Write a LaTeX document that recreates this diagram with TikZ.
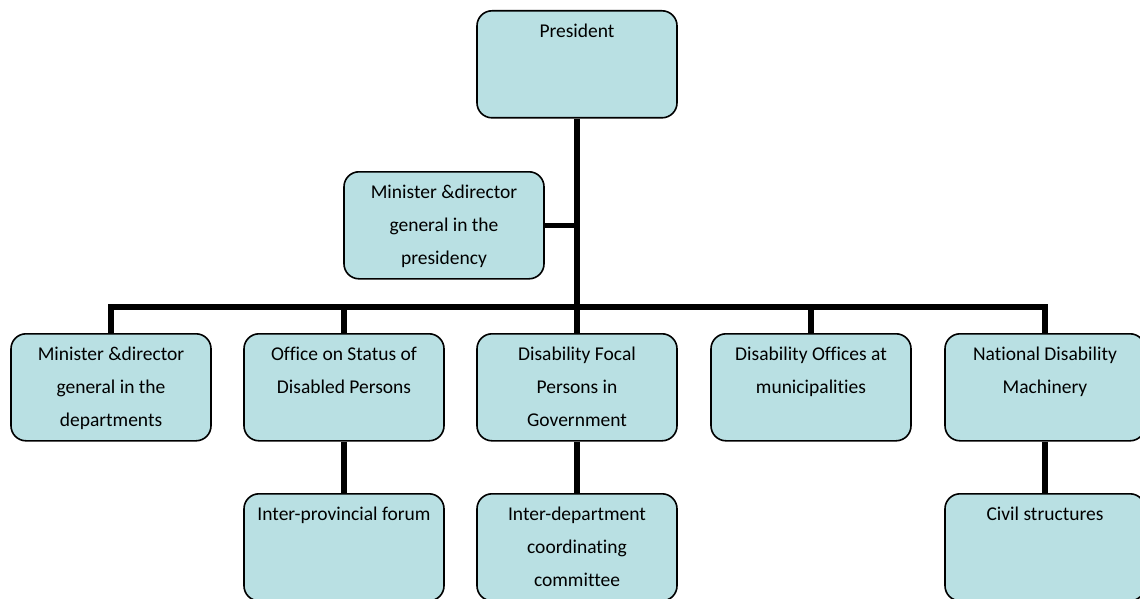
\documentclass[tikz,border=0pt]{standalone}
\usepackage{fontspec}
\setmainfont[Ligatures=NoCommon]{Carlito}
\usepackage{tikz}
\usetikzlibrary{shapes, arrows}
\definecolor{boxfill}{RGB}{185,224,227}
\tikzstyle{block} = [rectangle, draw, line width=1.6pt, fill=boxfill, 
rounded corners=15pt, minimum width=200pt, minimum height=107pt, inner sep=0pt, anchor=north]
\tikzstyle{line} = [draw, line width=5.5pt]
\newcommand{\boxtxt}[1]{\parbox[c][107pt][t]{196pt}{\centering\fontsize{19.5}{33}\selectfont\rule{0pt}{27pt}#1}}

\begin{document}
\begin{tikzpicture}[x=1pt, y=-1pt]
	\useasboundingbox (0,0) rectangle (1140,599);
	
	% Place nodes
	\node [block] at (577,10)	(President)			{\boxtxt{President}};
	\node [block] at (444,171)	(Minister Presidency)	{\boxtxt{Minister \&director\\general in the\\presidency}};
	\node [block] at (111,333)	(Minister Departments)	{\boxtxt{Minister \&director\\general in the\\departments}};
	\node [block] at (344,333)	(Office Status)		{\boxtxt{Office on Status of\\Disabled Persons}};
	\node [block] at (577,333)	(Focal Persons)		{\boxtxt{Disability Focal\\Persons in\\Government}};
	\node [block] at (811,333)	(Municipalities)		{\boxtxt{Disability Offices at\\municipalities}};
	\node [block] at (1045,333)	(Machinery)			{\boxtxt{National Disability\\Machinery}};
	\node [block] at (344,493)	(Forum)				{\boxtxt{Inter-provincial forum}};
	\node [block] at (577,493)	(Committee)			{\boxtxt{Inter-department\\coordinating\\committee}};
	\node [block] at (1045,493)	(Civil)				{\boxtxt{Civil structures}};
	\coordinate (bar) at (577,307);
	
	%Draw edges
	\path [line] (President)			-- 	(bar);
	\path [line] (Minister Presidency)	-- 	(Minister Presidency.east -| bar);
	\path [line] (Minister Departments)	|- 	(bar) -| (Machinery);
	\path [line] (Office Status)		-- 	(Office Status |- bar);
	\path [line] (Focal Persons)		-- 	(bar);
	\path [line] (Municipalities)		-- 	(Municipalities |- bar);
	\path [line] (Office Status)		-- 	(Forum);
	\path [line] (Focal Persons)		-- 	(Committee);
	\path [line] (Machinery)			-- 	(Civil);
	
\end{tikzpicture}
\end{document}
